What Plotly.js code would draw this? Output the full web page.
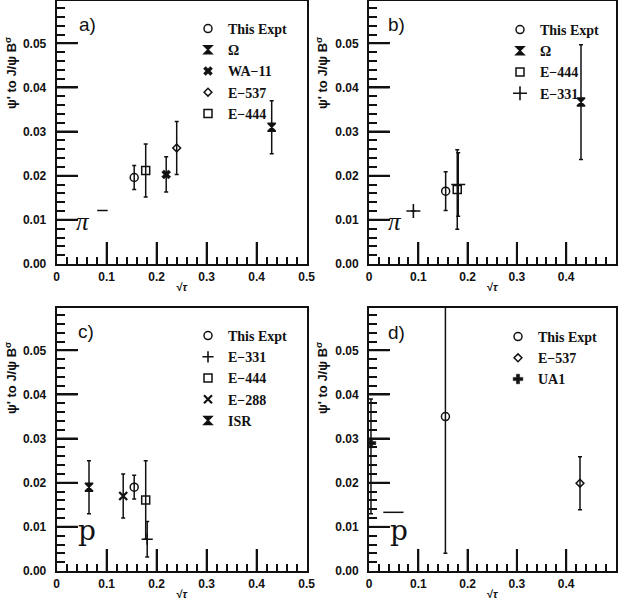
<!DOCTYPE html>
<html>
<head>
<meta charset="utf-8">
<script src="https://cdn.plot.ly/plotly-3.0.1.min.js"></script>
<style>
  html, body { margin: 0; padding: 0; background: #fff; }
  #chart { width: 622px; height: 609px; }
</style>
</head>
<body>
<div id="chart"></div>
<script>
// ψ'/J/ψ production ratio (B·σ) versus √τ, four beam/target combinations.

// Panel a) – pion beam
const aThisX = [0.155], aThisY = [0.0196], aThisErr = [0.0027];
const aOmegaX = [0.430], aOmegaY = [0.0310], aOmegaErr = [0.0060];
const aWa11X = [0.219], aWa11Y = [0.0203], aWa11Err = [0.0040];
const aE537X = [0.240], aE537Y = [0.0263], aE537Err = [0.0060];
const aE444X = [0.178], aE444Y = [0.0212], aE444Err = [0.0060];
const aDashX = [0.081, 0.102], aDashY = [0.0121, 0.0121];

// Panel b) – pion beam
const bThisX = [0.1555], bThisY = [0.0165], bThisErr = [0.0044];
const bOmegaX = [0.430], bOmegaY = [0.0367], bOmegaErr = [0.0130];
const bE444X = [0.179], bE444Y = [0.0169], bE444Err = [0.0090];
const bE331X = [0.090, 0.181], bE331Y = [0.0120, 0.0180], bE331Err = [0.0, 0.0072];

// Panel c) – proton beam
const cThisX = [0.155], cThisY = [0.0190], cThisErr = [0.0027];
const cE331X = [0.181], cE331Y = [0.0072], cE331Err = [0.0040];
const cE444X = [0.178], cE444Y = [0.0161], cE444Err = [0.0089];
const cE288X = [0.133], cE288Y = [0.0170], cE288Err = [0.0050];
const cIsrX = [0.0646], cIsrY = [0.0190], cIsrErr = [0.0060];

// Panel d) – proton beam
const dThisX = [0.155], dThisY = [0.0350], dThisErr = [0.0310];
const dE537X = [0.428], dE537Y = [0.0199], dE537Err = [0.0060];
const dUa1X = [0.004], dUa1Y = [0.0290], dUa1ErrUp = [0.0100], dUa1ErrDown = [0.0160];
const dDashX = [0.029, 0.070], dDashY = [0.0133, 0.0133];

// Long tick marks inside each frame
const xMajorTicks = [0.1, 0.2, 0.3, 0.4];
const yMajorTicks = [0.01, 0.02, 0.03, 0.04, 0.05];

const INK = '#111';
const X_RANGE = [0, 0.5];
const Y_RANGE = [0, 0.0596];
const X_TICK_LEN = 0.005;   // length of the long x ticks, in y units
const Y_TICK_LEN = 0.042;   // length of the long y ticks, in x units

function point(name, x, y, err, symbol, size, xa, ya, legend, opts) {
  opts = opts || {};
  const errY = {
    type: 'data', array: err, visible: true,
    color: INK, thickness: 1.5, width: 2
  };
  if (opts.errMinus) { errY.symmetric = false; errY.arrayminus = opts.errMinus; }
  return {
    type: 'scatter', mode: 'markers', name: name,
    x: x, y: y, xaxis: xa, yaxis: ya, legend: legend,
    showlegend: opts.showlegend !== false,
    marker: {
      symbol: symbol, size: size, color: INK,
      line: { color: INK, width: opts.lw || 1.5 }
    },
    error_y: errY,
    cliponaxis: true, hoverinfo: 'x+y+name'
  };
}

function dash(x, y, xa, ya) {
  return {
    type: 'scatter', mode: 'lines', x: x, y: y, xaxis: xa, yaxis: ya,
    line: { color: INK, width: 1.5 }, showlegend: false, hoverinfo: 'skip'
  };
}

// Long frame ticks as broken line segments along each axis.
function frameTicks(xa, ya) {
  const x = [], y = [];
  xMajorTicks.forEach(function (v) { x.push(v, v, null); y.push(0, X_TICK_LEN, null); });
  yMajorTicks.forEach(function (v) { x.push(0, Y_TICK_LEN, null); y.push(v, v, null); });
  return {
    type: 'scatter', mode: 'lines', x: x, y: y, xaxis: xa, yaxis: ya,
    connectgaps: false, line: { color: INK, width: 2 },
    showlegend: false, hoverinfo: 'skip'
  };
}

const traces = [
  frameTicks('x', 'y'), frameTicks('x2', 'y2'), frameTicks('x3', 'y3'), frameTicks('x4', 'y4'),
  // a)
  point('This Expt', aThisX, aThisY, aThisErr, 'circle-open', 8, 'x', 'y', 'legend'),
  point('Ω', aOmegaX, aOmegaY, aOmegaErr, 'hourglass', 8, 'x', 'y', 'legend'),
  point('WA−11', aWa11X, aWa11Y, aWa11Err, 'x', 8, 'x', 'y', 'legend', { lw: 0.5 }),
  point('E−537', aE537X, aE537Y, aE537Err, 'diamond-open', 6, 'x', 'y', 'legend'),
  point('E−444', aE444X, aE444Y, aE444Err, 'square-open', 8, 'x', 'y', 'legend'),
  dash(aDashX, aDashY, 'x', 'y'),
  // b)
  point('This Expt', bThisX, bThisY, bThisErr, 'circle-open', 8, 'x2', 'y2', 'legend2'),
  point('Ω', bOmegaX, bOmegaY, bOmegaErr, 'hourglass', 8, 'x2', 'y2', 'legend2'),
  point('E−444', bE444X, bE444Y, bE444Err, 'square-open', 8, 'x2', 'y2', 'legend2'),
  point('E−331', bE331X, bE331Y, bE331Err, 'cross-thin-open', 10, 'x2', 'y2', 'legend2', { lw: 1.6 }),
  // c)
  point('This Expt', cThisX, cThisY, cThisErr, 'circle-open', 8, 'x3', 'y3', 'legend3'),
  point('E−331', cE331X, cE331Y, cE331Err, 'cross-thin-open', 8, 'x3', 'y3', 'legend3', { lw: 1.6 }),
  point('E−444', cE444X, cE444Y, cE444Err, 'square-open', 8, 'x3', 'y3', 'legend3'),
  point('E−288', cE288X, cE288Y, cE288Err, 'x-thin-open', 8, 'x3', 'y3', 'legend3', { lw: 2.2 }),
  point('ISR', cIsrX, cIsrY, cIsrErr, 'hourglass', 8, 'x3', 'y3', 'legend3'),
  // d)
  point('This Expt', dThisX, dThisY, dThisErr, 'circle-open', 8, 'x4', 'y4', 'legend4'),
  point('E−537', dE537X, dE537Y, dE537Err, 'diamond-open', 6, 'x4', 'y4', 'legend4'),
  point('UA1', dUa1X, dUa1Y, dUa1ErrUp, 'cross', 8, 'x4', 'y4', 'legend4', { errMinus: dUa1ErrDown, lw: 0.5 }),
  dash(dDashX, dDashY, 'x4', 'y4')
];

const W = 622, H = 609;
const px = v => v / W;           // horizontal pixel -> paper
const py = v => 1 - v / H;       // vertical pixel -> paper

const tickFont = { family: 'Liberation Sans, Arial, sans-serif', size: 12, weight: 'bold', color: INK };

function xAxis(domain, anchor) {
  return {
    domain: domain, anchor: anchor, range: X_RANGE,
    tickmode: 'linear', tick0: 0, dtick: 0.1,
    ticks: 'inside', ticklen: 22, tickwidth: 2, tickcolor: INK,
    minor: { ticks: 'inside', ticklen: 7, tickwidth: 2, tickcolor: INK, dtick: 0.02, tick0: 0, showgrid: false },
    showline: true, linewidth: 2, linecolor: INK, mirror: true,
    showgrid: false, zeroline: false, fixedrange: true,
    ticklabelstandoff: 1, tickfont: tickFont,
    title: {
      text: '√<i>τ</i>', standoff: 0,
      font: { family: 'Liberation Sans, Arial, sans-serif', size: 11, weight: 'bold', color: INK }
    }
  };
}

function yAxis(domain, anchor) {
  return {
    domain: domain, anchor: anchor, range: Y_RANGE,
    tickmode: 'linear', tick0: 0, dtick: 0.01, tickformat: '.2f',
    ticks: 'inside', ticklen: 21, tickwidth: 2, tickcolor: INK,
    minor: { ticks: 'inside', ticklen: 8, tickwidth: 2, tickcolor: INK, dtick: 0.002, tick0: 0, showgrid: false },
    showline: true, linewidth: 2, linecolor: INK, mirror: true,
    showgrid: false, zeroline: false, fixedrange: true,
    ticklabelstandoff: 6, tickfont: tickFont
  };
}

const colLeft = [px(56.7), px(306.7)];
const colRight = [px(369), px(615.5)];
const rowTop = [py(264), py(1)];
const rowBottom = [py(571), py(308)];

function legendAt(xPix, yPix) {
  return {
    x: px(xPix), y: py(yPix), xanchor: 'left', yanchor: 'top',
    bgcolor: 'rgba(0,0,0,0)', borderwidth: 0, traceorder: 'normal',
    itemwidth: 30, tracegroupgap: 0,
    font: { family: 'Liberation Serif, Times New Roman, serif', size: 14, weight: 'bold', color: INK }
  };
}

const labelFont = { family: 'Liberation Sans, Arial, sans-serif', size: 19, color: INK };
const yTitleFont = { family: 'Liberation Sans, Arial, sans-serif', size: 13, weight: 'bold', color: INK };
const yTitleText = "ψ' to J/ψ B<sup>σ</sup>";
const piFont = { family: 'Liberation Serif, Times New Roman, serif', size: 25, color: INK };
const pFont = { family: 'DejaVu Serif, serif', size: 28, color: INK };

function note(text, x, y, xref, yref, font, extra) {
  return Object.assign({
    text: text, x: x, y: y, xref: xref, yref: yref, showarrow: false,
    xanchor: 'center', yanchor: 'middle', font: font
  }, extra || {});
}

const annotations = [
  note('a)', px(87), py(25), 'paper', 'paper', labelFont),
  note('b)', px(397), py(25), 'paper', 'paper', labelFont),
  note('c)', px(86), py(331), 'paper', 'paper', labelFont),
  note('d)', px(397), py(332), 'paper', 'paper', labelFont),
  note(yTitleText, px(11), py(73), 'paper', 'paper', yTitleFont, { textangle: -90 }),
  note(yTitleText, px(322), py(73), 'paper', 'paper', yTitleFont, { textangle: -90 }),
  note(yTitleText, px(11), py(378), 'paper', 'paper', yTitleFont, { textangle: -90 }),
  note(yTitleText, px(322), py(378), 'paper', 'paper', yTitleFont, { textangle: -90 }),
  // beam particle labels
  note('<i>π</i>', 0.052, 0.0097, 'x', 'y', piFont),
  note('<i>π</i>', 0.052, 0.0097, 'x2', 'y2', piFont),
  note('p', 0.061, 0.0092, 'x3', 'y3', pFont),
  note('p', 0.061, 0.0092, 'x4', 'y4', pFont)
];

const layout = {
  width: W, height: H, autosize: false,
  margin: { l: 0, r: 0, t: 0, b: 0 },
  paper_bgcolor: '#fff', plot_bgcolor: '#fff',
  showlegend: true,
  xaxis: xAxis(colLeft, 'y'), yaxis: yAxis(rowTop, 'x'),
  xaxis2: xAxis(colRight, 'y2'), yaxis2: yAxis(rowTop, 'x2'),
  xaxis3: xAxis(colLeft, 'y3'), yaxis3: yAxis(rowBottom, 'x3'),
  xaxis4: xAxis(colRight, 'y4'), yaxis4: yAxis(rowBottom, 'x4'),
  legend: legendAt(188, 13),
  legend2: legendAt(500, 14),
  legend3: legendAt(188, 320),
  legend4: legendAt(498, 321),
  annotations: annotations
};

Plotly.newPlot('chart', traces, layout, { displayModeBar: false, staticPlot: true });
</script>
</body>
</html>
